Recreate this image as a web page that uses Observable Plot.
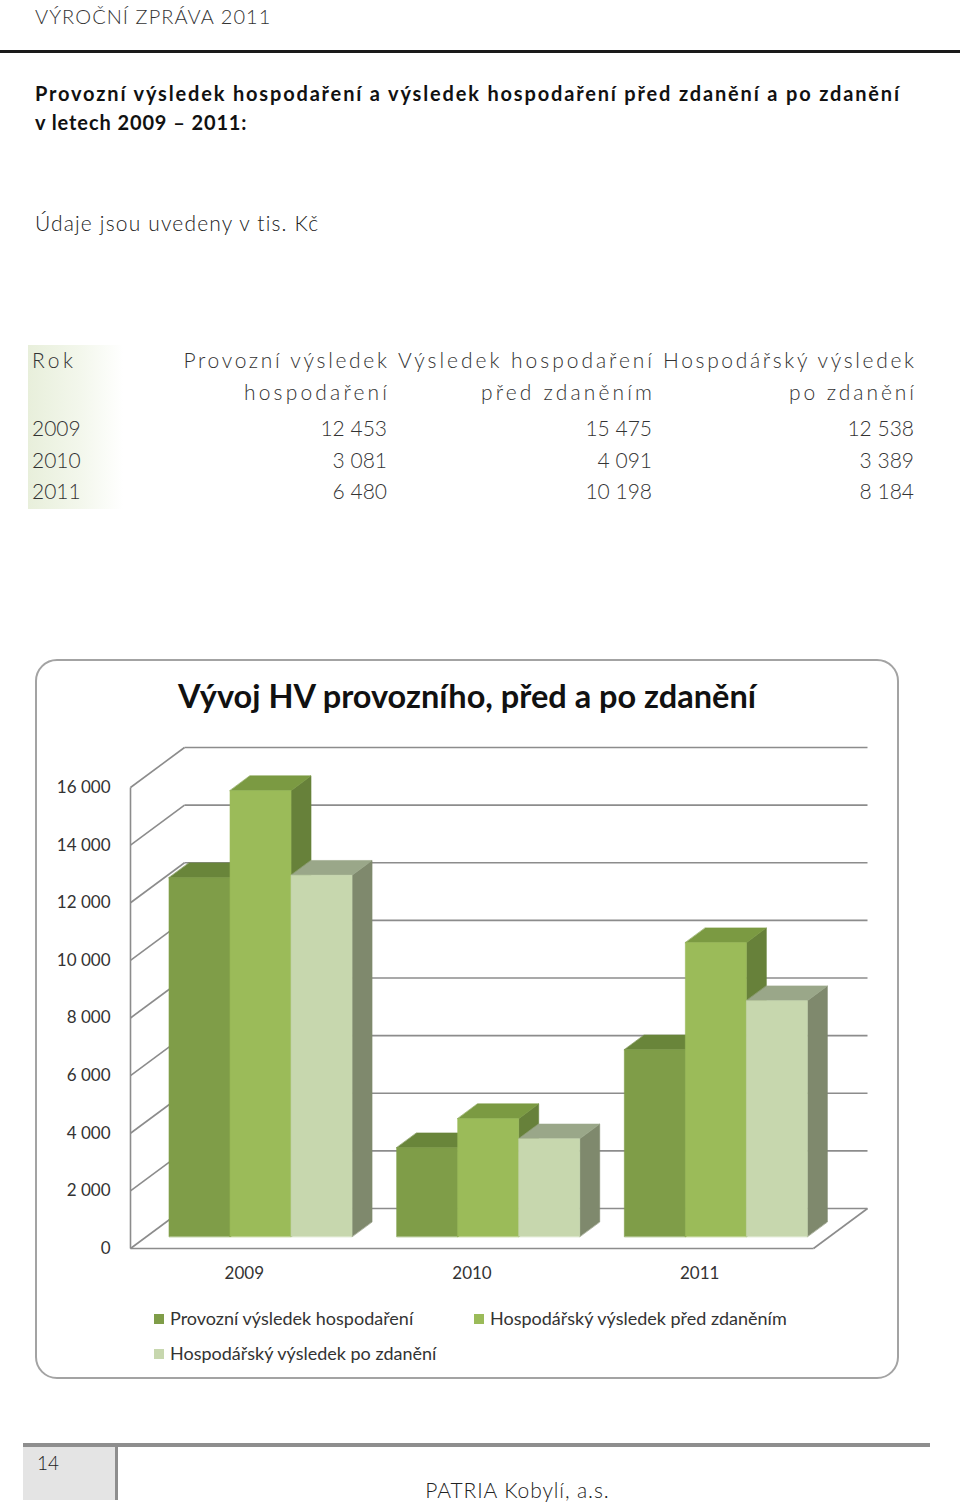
<!DOCTYPE html>
<html><head><meta charset="utf-8">
<script src="https://cdn.jsdelivr.net/npm/d3@7"></script>
<script src="https://cdn.jsdelivr.net/npm/@observablehq/plot@0.6"></script>
<style>
html,body{margin:0;padding:0;background:#fff}
body{width:960px;height:1504px;position:relative;overflow:hidden;font-family:Lato,"DejaVu Sans",sans-serif;color:#222}
.t{position:absolute;white-space:nowrap}
#frame{position:absolute;left:35px;top:659px;width:864px;height:720px;box-sizing:border-box;border:2px solid #a3a3a3;border-radius:22px}
#chart{position:absolute;left:35px;top:720px}
.lg{position:absolute;font-size:18px;line-height:18px;color:#333;white-space:nowrap}
.sw{display:inline-block;width:10px;height:10px;margin-right:6px;vertical-align:1px}
</style></head><body>
<div id="page"></div>
<div id="frame"></div>
<div id="chart"></div>
<script>
// ---- data ----
const years = ["2009", "2010", "2011"];
const seriesNames = ["Provozní výsledek hospodaření", "Hospodářský výsledek před zdaněním", "Hospodářský výsledek po zdanění"];
const provozniHV = [12453, 3081, 6480];
const hvPredZdanenim = [15475, 4091, 10198];
const hvPoZdaneni = [12538, 3389, 8184];
const yTicks = [0, 2000, 4000, 6000, 8000, 10000, 12000, 14000, 16000];
const tableHead1 = ["Rok", "Provozní výsledek", "Výsledek hospodaření", "Hospodářský výsledek"];
const tableHead2 = ["", "hospodaření", "před zdaněním", "po zdanění"];

// ---- styles ----
const palette = [
  {front: "#7f9d48", top: "#69853a", side: "#5d762f"},
  {front: "#9bbb59", top: "#7b9a42", side: "#67813a"},
  {front: "#c7d7ae", top: "#9aa789", side: "#7f896d"}
];
const fmt = v => d3.format(",")(v).replace(/,/g, " ");
const fmtTick = v => d3.format(",")(v).replace(/,/g, " ");

// ---- page text ----
const page = document.getElementById("page");
const ctx = document.createElement("canvas").getContext("2d");
function txt(s, x, cy, size, opts = {}) {
  const d = document.createElement("div");
  d.className = "t";
  d.textContent = s;
  const weight = opts.weight || 300;
  d.style.fontWeight = weight;
  d.style.fontSize = size + "px";
  d.style.lineHeight = size + "px";
  d.style.top = (cy - size / 2) + "px";
  let ls = 0;
  if (opts.fit) {
    ctx.font = `${weight} ${size}px Lato`;
    const w = ctx.measureText(s).width;
    ls = (opts.fit - w) / Math.max(1, s.length - 1);
    d.style.letterSpacing = ls + "px";
  }
  if (opts.right) { d.style.right = (960 - x - ls) + "px"; d.style.textAlign = "right"; }
  else if (opts.center) { d.style.left = (x - 300 + ls / 2) + "px"; d.style.width = "600px"; d.style.textAlign = "center"; }
  else d.style.left = x + "px";
  d.style.color = opts.color || "#333";
  page.appendChild(d);
  return d;
}
function box(x, y, w, h, css) {
  const d = document.createElement("div");
  d.style.cssText = `position:absolute;left:${x}px;top:${y}px;width:${w}px;height:${h}px;` + css;
  page.appendChild(d);
}
// header
txt("VÝROČNÍ ZPRÁVA 2011", 35, 16, 20, {fit: 236});
box(0, 50, 960, 3, "background:#1a1a1a");
txt("Provozní výsledek hospodaření a výsledek hospodaření před zdanění a po zdanění", 35, 93, 20, {weight: 700, color: "#111", fit: 865});
txt("v letech 2009 – 2011:", 35, 122, 20, {weight: 700, color: "#111", fit: 212});
txt("Údaje jsou uvedeny v tis. Kč", 35, 222, 21, {color: "#222", fit: 285});

// table
box(28, 345, 95, 164, "background:linear-gradient(to right,#e8efdb,#f3f7ec 55%,#ffffff)");
const colRight = [null, 387, 652, 914];
const head1W = [41, 204, 254, 252];
const head2W = [0, 143, 171, 125];
const rowY = [359, 391, 427, 459, 490];
txt(tableHead1[0], 32, rowY[0], 21, {fit: head1W[0]});
for (let c = 1; c < 4; c++) {
  txt(tableHead1[c], colRight[c], rowY[0], 21, {right: true, fit: head1W[c]});
  txt(tableHead2[c], colRight[c], rowY[1], 21, {right: true, fit: head2W[c]});
}
const cols = [provozniHV, hvPredZdanenim, hvPoZdaneni];
years.forEach((yr, i) => {
  txt(yr, 32, rowY[i + 2], 21);
  cols.forEach((arr, c) => txt(fmt(arr[i]), colRight[c + 1], rowY[i + 2], 21, {right: true}));
});

// chart title
txt("Vývoj HV provozního, před a po zdanění", 467, 696, 32.5, {weight: 700, center: true, color: "#111"});

// legend
const legendPos = [[154, 1318], [474, 1318], [154, 1353]];
seriesNames.forEach((s, j) => {
  const d = document.createElement("div");
  d.className = "lg";
  d.style.left = legendPos[j][0] + "px";
  d.style.top = (legendPos[j][1] - 9) + "px";
  d.innerHTML = `<span class="sw" style="background:${palette[j].front}"></span>`;
  d.appendChild(document.createTextNode(s));
  page.appendChild(d);
});

// footer
box(23, 1443, 907, 4, "background:#8e8e8e");
box(23, 1447, 92, 53, "background:#e4e4e4");
box(115, 1447, 3, 53, "background:#8e8e8e");
txt("14", 37, 1462, 19, {color: "#222"});
txt("PATRIA Kobylí, a.s.", 517, 1489, 21, {center: true, color: "#222", fit: 184});

// ---- 3D column chart ----
const DX = 0.2372, DY = 1388;            // depth vector in data units
const Z0 = 0.3, Z1 = 0.67;               // bar depth span
const GP = 0.098, BW = 0.268;            // group padding and bar width (band units)
const proj = (x, v, z) => ({x: x + z * DX, y: v + z * DY});
const values = [provozniHV, hvPredZdanenim, hvPoZdaneni];

const faces = [];
years.forEach((yr, i) => values.forEach((vals, j) => {
  const v = vals[i], x0 = i + GP + j * BW, x1 = x0 + BW, c = palette[j];
  const add = (name, pts, color) => pts.forEach(p => faces.push({...p, id: `${yr}-${j}-${name}`, color}));
  add("side", [proj(x1, 0, Z0), proj(x1, v, Z0), proj(x1, v, Z1), proj(x1, 0, Z1)], c.side);
  add("top", [proj(x0, v, Z0), proj(x1, v, Z0), proj(x1, v, Z1), proj(x0, v, Z1)], c.top);
  add("front", [proj(x0, 0, Z0), proj(x0, v, Z0), proj(x1, v, Z0), proj(x1, 0, Z0)], c.front);
}));

const seg = (a, b) => ({x1: a.x, y1: a.y, x2: b.x, y2: b.y});
const gridBack = yTicks.map(v => seg(proj(0, v, 1), proj(years.length, v, 1)));
const gridSide = yTicks.map(v => seg(proj(0, v, 0), proj(0, v, 1)));
const edges = [
  seg(proj(0, 0, 0), proj(0, yTicks[yTicks.length - 1], 0)),
  seg(proj(0, 0, 0), proj(years.length, 0, 0)),
  seg(proj(years.length, 0, 0), proj(years.length, 0, 1))
];

const chart = Plot.plot({
  width: 864, height: 580, margin: 0,
  x: {type: "linear", domain: [0, years.length], range: [95, 778], axis: null},
  y: {type: "linear", domain: [0, 16000], range: [528, 67], axis: null},
  color: {type: "identity"},
  style: {fontFamily: "Lato, sans-serif", fontSize: "17px", color: "#333", background: "none"},
  marks: [
    Plot.link([...gridBack, ...gridSide, ...edges], {x1: "x1", y1: "y1", x2: "x2", y2: "y2", stroke: "#8c8c8c", strokeWidth: 1.6}),
    Plot.line(faces, {x: "x", y: "y", z: "id", fill: "color", stroke: "color", strokeWidth: 0.6, curve: "linear-closed"}),
    Plot.text(yTicks, {x: 0, y: d => d, text: d => fmtTick(d), textAnchor: "end", dx: -20, fill: "#333", fontSize: 17}),
    Plot.text(years, {x: (d, i) => i + 0.5, y: 0, text: d => d, dy: 25, fill: "#333", fontSize: 17})
  ]
});
document.getElementById("chart").appendChild(chart);
</script>
</body></html>
